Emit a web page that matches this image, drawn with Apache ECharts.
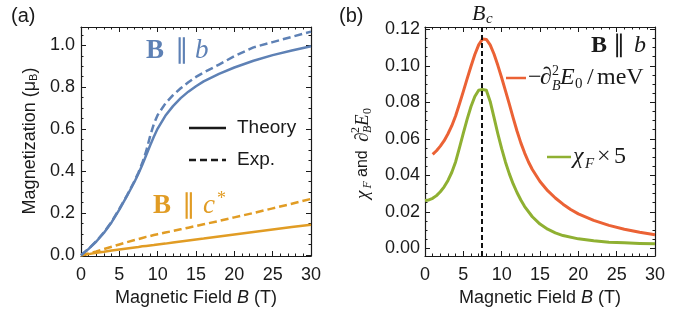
<!DOCTYPE html>
<html>
<head>
<meta charset="utf-8">
<script src="https://cdn.jsdelivr.net/npm/echarts@6/dist/echarts.min.js"></script>
<style>
  html, body { margin: 0; padding: 0; background: #fff; }
  #chart { width: 688px; height: 320px; }
</style>
</head>
<body>
<div id="chart"></div>
<script>
// ---- panel (a): magnetization vs field ----
const fieldA = [0, 1, 2, 3, 4, 5, 6, 7, 7.5, 8, 8.5, 9, 9.5, 10, 11, 12, 13, 14, 15, 16, 18, 20, 22.5, 25, 27.5, 30];
const blueTheory = [0, 0.03, 0.065, 0.107, 0.157, 0.217, 0.282, 0.351, 0.389, 0.431, 0.476, 0.521, 0.564, 0.603, 0.664, 0.71, 0.748, 0.779, 0.805, 0.828, 0.864, 0.894, 0.926, 0.953, 0.975, 0.995];
const blueExp = [0, 0.031, 0.067, 0.109, 0.16, 0.22, 0.285, 0.355, 0.394, 0.44, 0.495, 0.565, 0.625, 0.668, 0.722, 0.762, 0.795, 0.824, 0.849, 0.87, 0.908, 0.948, 0.99, 1.015, 1.04, 1.065];
const orangeTheory = [0, 0.005, 0.011, 0.016, 0.022, 0.027, 0.032, 0.037, 0.039, 0.042, 0.044, 0.046, 0.048, 0.051, 0.055, 0.06, 0.065, 0.07, 0.075, 0.079, 0.089, 0.098, 0.11, 0.122, 0.134, 0.145];
const orangeExp = [0, 0.008, 0.018, 0.029, 0.04, 0.051, 0.062, 0.072, 0.077, 0.082, 0.087, 0.091, 0.096, 0.1, 0.108, 0.115, 0.123, 0.131, 0.139, 0.147, 0.163, 0.18, 0.201, 0.223, 0.245, 0.268];

// ---- panel (b): fidelity susceptibility and -d2E0/dB2 ----
const fieldRed = [1, 1.5, 2, 2.5, 3, 3.5, 4, 4.5, 5, 5.5, 6, 6.5, 7, 7.5, 8, 8.5, 9, 9.5, 10, 10.5, 11, 11.5, 12, 12.5, 13, 13.5, 14, 15, 16, 17, 18, 19, 20, 22, 24, 26, 28, 30];
const energyCurv = [0.0515, 0.0535, 0.056, 0.059, 0.0628, 0.0672, 0.0727, 0.0792, 0.086, 0.093, 0.0998, 0.1062, 0.1115, 0.1147, 0.1145, 0.1115, 0.1065, 0.1003, 0.0935, 0.0863, 0.079, 0.0715, 0.0643, 0.0578, 0.0522, 0.0473, 0.0432, 0.0366, 0.0316, 0.0276, 0.0242, 0.0213, 0.0189, 0.0153, 0.0126, 0.0105, 0.0088, 0.0075];
const fieldGreen = [0, 0.5, 1, 1.5, 2, 2.5, 3, 3.5, 4, 4.5, 5, 5.5, 6, 6.5, 7, 7.5, 8, 8.5, 9, 9.5, 10, 10.5, 11, 11.5, 12, 12.5, 13, 14, 15, 16, 17, 18, 20, 22, 24, 26, 28, 30];
const fidelity = [0.0262, 0.0265, 0.0274, 0.0289, 0.031, 0.0337, 0.0372, 0.0417, 0.0475, 0.0552, 0.0632, 0.0708, 0.0777, 0.0832, 0.0866, 0.087, 0.0866, 0.0805, 0.0718, 0.0628, 0.0546, 0.0472, 0.0408, 0.0353, 0.0306, 0.0265, 0.0229, 0.0173, 0.0133, 0.0105, 0.0085, 0.007, 0.0052, 0.0041, 0.0034, 0.003, 0.0027, 0.0025];
const criticalField = 7.4;

// ---- ticks ----
const xTicks = [0, 5, 10, 15, 20, 25, 30];
const yTicksA = [0, 0.2, 0.4, 0.6, 0.8, 1.0];
const yTicksB = [0, 0.02, 0.04, 0.06, 0.08, 0.1, 0.12];

const SANS = '"Liberation Sans", Arial, sans-serif';
const SERIF = '"Liberation Serif", "Times New Roman", serif';
const INK = '#1a1a1a';
const BLUE = '#5e81b5';
const ORANGE = '#e19c24';
const RED = '#eb6235';
const GREEN = '#8fb032';

// minor tick positions between the major ones
function minorsOf(majors, parts, upTo) {
  const out = [];
  const step = (majors[1] - majors[0]) / parts;
  for (let v = majors[0]; v < upTo - 1e-9; v += step) {
    const r = Math.round(v / step);
    if (r % parts !== 0) out.push(+(r * step).toFixed(6));
  }
  return out;
}

// four framed sides, each with a major and a minor tick axis
function frame(isX, gridIndex, min, max, majors, minors, fmt, margin) {
  const sides = isX ? ['bottom', 'top'] : ['left', 'right'];
  const out = [];
  sides.forEach((pos, s) => {
    [majors, minors].forEach((ticks, m) => {
      out.push({
        type: 'value', gridIndex, position: pos, min, max,
        axisLine: { show: m === 0, onZero: false, lineStyle: { color: INK, width: 1.2 } },
        axisTick: { show: true, inside: true, length: m === 0 ? 5 : 2.5, customValues: ticks,
                    lineStyle: { color: INK, width: 1 } },
        axisLabel: (s === 0 && m === 0)
          ? { show: true, customValues: majors, formatter: fmt, margin, fontSize: 18, fontFamily: SANS, color: INK }
          : { show: false },
        splitLine: { show: false }
      });
    });
  });
  return out;
}

const fieldName = () => ({
  name: 'Magnetic Field {i|B} (T)', nameLocation: 'middle', nameGap: 30,
  nameTextStyle: { fontSize: 18, fontFamily: SANS, color: INK,
    rich: { i: { fontSize: 18, fontFamily: SANS, fontStyle: 'italic', color: INK } } }
});

const xMinors = minorsOf(xTicks, 5, 30);
const xAxes = [
  ...frame(true, 0, 0, 30, xTicks, xMinors, v => String(v), 10),
  ...frame(true, 1, 0, 30, xTicks, xMinors, v => String(v), 10)
];
Object.assign(xAxes[0], fieldName());
Object.assign(xAxes[4], fieldName());

const yAxes = [
  ...frame(false, 0, -0.004, 1.087, yTicksA, minorsOf(yTicksA, 4, 1.087), v => v.toFixed(1), 6),
  ...frame(false, 1, -0.0042, 0.1213, yTicksB, minorsOf(yTicksB, 4, 0.1213), v => v.toFixed(2), 5)
];

function curve(xs, ys, color, dashed, axis, width) {
  return {
    type: 'line', xAxisIndex: axis, yAxisIndex: axis,
    data: xs.map((x, i) => [x, ys[i]]),
    symbol: 'none', smooth: false, silent: true,
    lineStyle: { color, width, type: dashed ? [8, 4] : 'solid', join: 'round', cap: 'butt' }
  };
}

const series = [
  curve(fieldA, orangeTheory, ORANGE, false, 0, 2.5),
  curve(fieldA, orangeExp, ORANGE, true, 0, 2.5),
  curve(fieldA, blueTheory, BLUE, false, 0, 2.5),
  curve(fieldA, blueExp, BLUE, true, 0, 2.5),
  curve(fieldGreen, fidelity, GREEN, false, 4, 3),
  curve(fieldRed, energyCurv, RED, false, 4, 3)
];
series[5].markLine = {
  symbol: 'none', silent: true, label: { show: false }, animation: false,
  lineStyle: { color: '#111', type: [5, 3], width: 2 },
  data: [{ xAxis: criticalField }]
};

// text helpers
function t(x, y, text, size, family, color, opts) {
  return {
    type: 'text', x, y,
    style: Object.assign({ text, fontSize: size, fontFamily: family, fill: color,
                           align: 'left', verticalAlign: 'middle' }, opts || {})
  };
}
const it = { fontStyle: 'italic' };
const bd = { fontWeight: 'bold' };
function key(x1, x2, y, color, dash) {
  return { type: 'line', shape: { x1, y1: y, x2, y2: y },
           style: { stroke: color, lineWidth: 2.5, lineDash: dash || null } };
}

const graphic = [
  // panel tags
  t(11, 16, '(a)', 20, SANS, INK),
  t(339, 16, '(b)', 20, SANS, INK),
  // (a) y name
  { type: 'text', x: 28, y: 141, rotation: Math.PI / 2,
    style: { text: '{a|Magnetization (μ}{s|B}{a|)}', align: 'center', verticalAlign: 'middle', fill: INK,
      rich: { a: { fontSize: 18, fontFamily: SANS, color: INK, verticalAlign: 'bottom', lineHeight: 22 },
              s: { fontSize: 11, fontFamily: SANS, color: INK, verticalAlign: 'bottom', lineHeight: 18 } } } },
  // (a) curve tags
  t(146, 51, 'B', 27, SERIF, BLUE, bd),
  t(175, 51, '∥', 27, SERIF, BLUE),
  t(195, 51, 'b', 27, SERIF, BLUE, it),
  t(153, 206, 'B', 27, SERIF, ORANGE, bd),
  t(182, 206, '∥', 27, SERIF, ORANGE),
  t(203, 206, 'c', 27, SERIF, ORANGE, it),
  t(217, 199, '*', 18, SERIF, ORANGE),
  // (a) legend
  key(189, 226, 128, INK),
  t(237, 128, 'Theory', 19, SANS, INK),
  key(189, 226, 160, INK, [7, 4]),
  t(237, 160, 'Exp.', 19, SANS, INK),
  // (b) critical field tag
  t(472, 14, 'B', 22, SERIF, INK, it),
  t(486, 19, 'c', 15, SERIF, INK, it),
  // (b) field direction
  t(591, 46, 'B', 24, SERIF, INK, bd),
  t(613, 46, '∥', 24, SERIF, INK),
  t(634, 46, 'b', 24, SERIF, INK, it),
  // (b) legend: -d2E0 / meV
  key(506, 526, 78, RED),
  t(528, 78, '−', 24, SERIF, INK),
  t(540, 78, '∂', 24, SERIF, INK, it),
  t(552, 71, '2', 14, SERIF, INK),
  t(552, 86, 'B', 14, SERIF, INK, it),
  t(560, 78, 'E', 24, SERIF, INK, it),
  t(575, 84, '0', 15, SERIF, INK),
  t(587, 78, '/', 24, SERIF, INK),
  t(597, 78, 'meV', 24, SERIF, INK),
  // (b) legend: chi_F x 5
  key(547, 571, 157, GREEN),
  t(573, 157, 'χ', 24, SERIF, INK, it),
  t(585, 164, 'F', 15, SERIF, INK, it),
  t(597, 157, '×', 24, SERIF, INK),
  t(614, 157, '5', 24, SERIF, INK),
  // (b) y name, rotated
  { type: 'group', x: 363, y: 199, rotation: Math.PI / 2, children: [
    t(0, 0, 'χ', 19, SERIF, INK, it),
    t(10.5, 5, 'F', 12, SERIF, INK, it),
    t(22, 0, 'and', 16, SANS, INK),
    t(57, 0, '∂', 19, SERIF, INK, it),
    t(66, -7, '2', 12, SERIF, INK),
    t(66, 5, 'B', 12, SERIF, INK, it),
    t(73, 0, 'E', 19, SERIF, INK, it),
    t(85, 5, '0', 12, SERIF, INK)
  ] }
];

const chart = echarts.init(document.getElementById('chart'), null, { renderer: 'canvas' });
chart.setOption({
  animation: false,
  backgroundColor: '#fff',
  grid: [
    { left: 81, top: 27, width: 230, height: 229 },
    { left: 425, top: 27, width: 230, height: 229 }
  ],
  xAxis: xAxes,
  yAxis: yAxes,
  series,
  graphic
});
</script>
</body>
</html>
